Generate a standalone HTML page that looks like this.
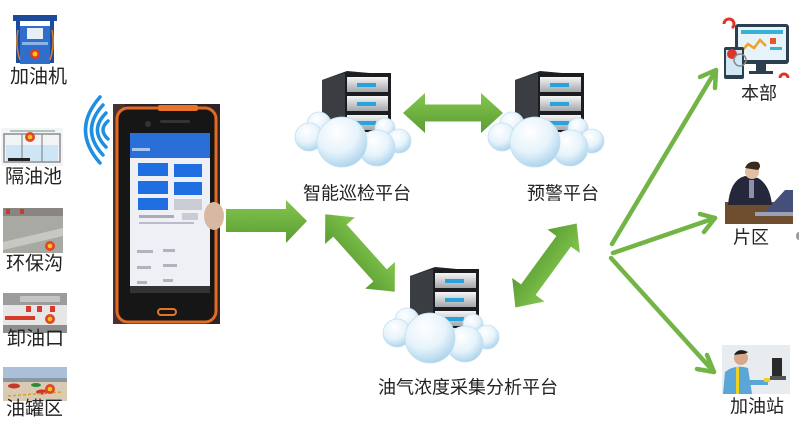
<!DOCTYPE html>
<html><head><meta charset="utf-8">
<style>
html,body{margin:0;padding:0;background:#fff;}
svg{display:block;}
text{font-family:"Liberation Sans","Noto Sans CJK SC",sans-serif;fill:#222;dominant-baseline:central;}
</style></head>
<body>
<svg width="800" height="438" viewBox="0 0 800 438" xmlns="http://www.w3.org/2000/svg">
<defs>
  <radialGradient id="cl" cx="0.4" cy="0.3" r="0.75">
    <stop offset="0" stop-color="#ffffff"/>
    <stop offset="0.55" stop-color="#e6f3fb"/>
    <stop offset="1" stop-color="#a6d0ea"/>
  </radialGradient>
  <linearGradient id="dr" x1="0" y1="0" x2="0" y2="1">
    <stop offset="0" stop-color="#f6f6f6"/>
    <stop offset="1" stop-color="#a4a6aa"/>
  </linearGradient>
  <linearGradient id="gr" x1="0" y1="0" x2="0" y2="1">
    <stop offset="0" stop-color="#82c64e"/>
    <stop offset="1" stop-color="#5b9d33"/>
  </linearGradient>
  <g id="srv">
    <polygon points="27,12 52,3 96,7 96,72 27,72" fill="#202327"/>
    <polygon points="27,12 50,5 50,72 27,72" fill="#3a3d42"/>
    <rect x="50" y="5" width="46" height="67" fill="#1b1d21"/>
    <rect x="52" y="9" width="41" height="15" fill="url(#dr)"/>
    <rect x="62" y="15" width="19" height="4" fill="#2aa3dc"/>
    <rect x="52" y="28" width="41" height="15" fill="url(#dr)"/>
    <rect x="62" y="34" width="19" height="4" fill="#2aa3dc"/>
    <rect x="52" y="47" width="41" height="15" fill="url(#dr)"/>
    <rect x="62" y="53" width="19" height="4" fill="#2aa3dc"/>
    <rect x="52" y="64" width="41" height="8" fill="url(#dr)"/>
    <g fill="url(#cl)" stroke="#c2e0f1" stroke-width="0.8">
      <circle cx="24" cy="56" r="12"/>
      <circle cx="14" cy="69" r="14"/>
      <circle cx="90" cy="60" r="10"/>
      <circle cx="104" cy="73" r="12"/>
      <circle cx="82" cy="80" r="18"/>
      <circle cx="47" cy="74" r="25"/>
    </g>
  </g>
</defs>

<!-- Left images -->
<g>
  <rect x="13" y="15" width="44" height="6" fill="#1c4b9c"/>
  <rect x="16" y="21" width="4" height="42" fill="#1c4b9c"/>
  <rect x="50" y="21" width="4" height="42" fill="#1c4b9c"/>
  <rect x="20" y="26" width="30" height="38" fill="#2f6fcb"/>
  <rect x="27" y="28" width="16" height="11" fill="#e8eef4"/>
  <rect x="22" y="42" width="26" height="3" fill="#8ab4e6"/>
  <circle cx="35" cy="54" r="5" fill="#e23a22"/>
  <circle cx="35" cy="54" r="2.5" fill="#f5c518"/>
  <path d="M18 30 Q15 45 20 60" stroke="#e08020" stroke-width="1.5" fill="none"/>
  <path d="M52 30 Q55 45 50 60" stroke="#e08020" stroke-width="1.5" fill="none"/>
</g>
<g>
  <rect x="1" y="128" width="62" height="38" fill="#f2f4f6"/>
  <rect x="4" y="134" width="56" height="28" fill="none" stroke="#8a8c90" stroke-width="1.5"/>
  <rect x="6" y="145" width="52" height="16" fill="#cde5f4"/>
  <line x1="22" y1="134" x2="22" y2="162" stroke="#8a8c90" stroke-width="1.2"/>
  <line x1="42" y1="134" x2="42" y2="162" stroke="#8a8c90" stroke-width="1.2"/>
  <rect x="8" y="158" width="22" height="3" fill="#222"/>
  <circle cx="30" cy="137" r="5" fill="#e2452a"/>
  <circle cx="30" cy="137" r="2.3" fill="#f5c518"/>
  <line x1="10" y1="131" x2="55" y2="131" stroke="#6a9a7a" stroke-width="1"/>
</g>
<g>
  <rect x="3" y="208" width="60" height="45" fill="#a9a9a4"/>
  <rect x="3" y="208" width="60" height="8" fill="#8a8580"/>
  <polygon points="3,242 63,228 63,236 3,250" fill="#c8c8c2"/>
  <rect x="6" y="209" width="4" height="5" fill="#c83a2a"/>
  <rect x="20" y="209" width="4" height="5" fill="#c83a2a"/>
  <circle cx="50" cy="246" r="5" fill="#e2452a"/>
  <circle cx="50" cy="246" r="2.3" fill="#f5c518"/>
</g>
<g>
  <rect x="3" y="293" width="64" height="40" fill="#e6e6e6"/>
  <rect x="3" y="293" width="64" height="12" fill="#9c9c9c"/>
  <rect x="20" y="296" width="40" height="6" fill="#c4c4c4"/>
  <rect x="5" y="316" width="30" height="4" fill="#d83a2a"/>
  <rect x="26" y="306" width="5" height="6" fill="#d83a2a"/>
  <rect x="37" y="306" width="5" height="6" fill="#d83a2a"/>
  <rect x="50" y="306" width="5" height="6" fill="#d83a2a"/>
  <circle cx="50" cy="319" r="5" fill="#e2452a"/>
  <circle cx="50" cy="319" r="2.3" fill="#f5c518"/>
  <rect x="3" y="325" width="64" height="8" fill="#8e8e8e"/>
</g>
<g>
  <rect x="3" y="367" width="64" height="34" fill="#d9cbb3"/>
  <rect x="3" y="367" width="64" height="14" fill="#a9c0d8"/>
  <rect x="3" y="378" width="64" height="4" fill="#8a96a0"/>
  <ellipse cx="14" cy="386" rx="6" ry="2.5" fill="#c8382a"/>
  <ellipse cx="36" cy="385" rx="5" ry="2" fill="#2a8a3a"/>
  <ellipse cx="42" cy="392" rx="6" ry="2.5" fill="#c8382a"/>
  <line x1="8" y1="396" x2="62" y2="392" stroke="#d8a020" stroke-width="1.5" stroke-dasharray="3 2"/>
  <circle cx="50" cy="389" r="5" fill="#e2452a"/>
  <circle cx="50" cy="389" r="2.3" fill="#f5c518"/>
</g>

<text x="10" y="77" font-size="19">加油机</text>
<text x="5" y="177" font-size="19">隔油池</text>
<text x="6" y="264" font-size="19">环保沟</text>
<text x="7" y="339" font-size="19">卸油口</text>
<text x="6" y="409" font-size="19">油罐区</text>

<!-- wifi arcs -->
<g fill="none" stroke="#1e8fe2" stroke-width="3.5" stroke-linecap="round">
  <path d="M108 121 Q98 130 108 139"/>
  <path d="M106 113 Q89 130 106 147"/>
  <path d="M103 105 Q80 130 103 155"/>
  <path d="M100 97 Q71 130 100 163"/>
</g>

<!-- phone photo -->
<g>
  <rect x="113" y="104" width="107" height="220" fill="#2e2426"/>
  <rect x="113" y="104" width="12" height="220" fill="#4a3030"/>
  <rect x="117" y="108" width="99" height="214" rx="11" fill="#161616" stroke="#e36a22" stroke-width="3"/>
  <rect x="158" y="105" width="40" height="6" rx="2" fill="#e8742a"/>
  <circle cx="148" cy="124" r="3" fill="#333"/>
  <rect x="160" y="120" width="30" height="3" rx="1.5" fill="#333"/>
  <rect x="130" y="133" width="80" height="160" fill="#eef0f5"/>
  <rect x="130" y="133" width="80" height="25" fill="#2a6fd8"/>
  <rect x="132" y="148" width="18" height="3" fill="#a8c6f0"/>
  <rect x="138" y="163" width="30" height="13" fill="#1f6fe2"/>
  <rect x="174" y="164" width="28" height="13" fill="#1f6fe2"/>
  <rect x="138" y="181" width="30" height="13" fill="#1f6fe2"/>
  <rect x="174" y="182" width="28" height="13" fill="#1f6fe2"/>
  <rect x="138" y="198" width="30" height="12" fill="#1f6fe2"/>
  <rect x="174" y="199" width="28" height="11" fill="#c9ccd4"/>
  <rect x="139" y="215" width="35" height="3" fill="#aab"/>
  <rect x="182" y="213" width="16" height="7" fill="#c9ccd4"/>
  <rect x="139" y="222" width="55" height="2" fill="#bbc"/>
  <rect x="137" y="250" width="16" height="3" fill="#b0b4bc"/>
  <rect x="163" y="249" width="12" height="3" fill="#b0b4bc"/>
  <rect x="137" y="266" width="14" height="3" fill="#b0b4bc"/>
  <rect x="163" y="264" width="14" height="3" fill="#b0b4bc"/>
  <rect x="137" y="281" width="10" height="3" fill="#b0b4bc"/>
  <rect x="163" y="279" width="10" height="3" fill="#b0b4bc"/>
  <rect x="130" y="286" width="80" height="7" fill="#333"/>
  <rect x="158" y="309" width="18" height="6" rx="3" fill="none" stroke="#e8742a" stroke-width="2"/>
  <ellipse cx="214" cy="216" rx="10" ry="14" fill="#d9b8a2"/>
</g>

<polygon points="226,209 286,209 286,200 307,221 286,243 286,232 226,232" fill="url(#gr)"/>

<use href="#srv" x="295" y="68"/>
<use href="#srv" x="488" y="68"/>
<use href="#srv" x="383" y="264"/>

<g fill="url(#gr)">
  <polygon transform="translate(453,113)" points="-50,0 -28,-20 -28,-8.5 28,-8.5 28,-20 50,0 28,20 28,8.5 -28,8.5 -28,20"/>
  <polygon transform="translate(360,253) rotate(48.1)" points="-52,0 -30,-20 -30,-9 30,-9 30,-20 52,0 30,20 30,9 -30,9 -30,20"/>
  <polygon transform="translate(546,265.5) rotate(126.1)" points="-52,0 -30,-20 -30,-9 30,-9 30,-20 52,0 30,20 30,9 -30,9 -30,20"/>
</g>

<text x="303" y="193.5" font-size="18">智能巡检平台</text>
<text x="527" y="193.5" font-size="18">预警平台</text>
<text x="378" y="387.5" font-size="18">油气浓度采集分析平台</text>

<g fill="none" stroke="#72b446" stroke-width="4.5" stroke-linecap="round" stroke-linejoin="round">
  <line x1="612" y1="244" x2="716" y2="70"/>
  <polyline points="700,77 716,70 715,88"/>
  <line x1="613" y1="253" x2="715" y2="218"/>
  <polyline points="700,214 715,218 704,232"/>
  <line x1="611" y1="258" x2="714" y2="372"/>
  <polyline points="707,355 714,372 697,369"/>
</g>

<g>
  <rect x="722" y="22" width="68" height="60" fill="#fff"/>
  <path d="M724 24 a5 5 0 1 1 8 4" stroke="#e0342a" stroke-width="3" fill="none"/>
  <rect x="735" y="24" width="54" height="40" rx="3" fill="#2b3f4e"/>
  <rect x="738" y="27" width="48" height="33" fill="#e6f3f9"/>
  <rect x="741" y="30" width="42" height="4" fill="#3ab1d4"/>
  <polyline points="741,52 748,44 754,48 760,40 766,46" fill="none" stroke="#f2a020" stroke-width="2.5"/>
  <rect x="770" y="38" width="6" height="6" fill="#e8542a"/>
  <rect x="770" y="47" width="12" height="3" fill="#3ab1d4"/>
  <rect x="756" y="64" width="10" height="8" fill="#2b3f4e"/>
  <rect x="749" y="71" width="24" height="3" fill="#2b3f4e"/>
  <rect x="724" y="47" width="20" height="32" rx="2" fill="#2b3f4e"/>
  <rect x="726" y="50" width="16" height="25" fill="#cfe8f4"/>
  <circle cx="732" cy="54" r="5" fill="#e0342a"/>
  <circle cx="740" cy="60" r="6" fill="none" stroke="#888" stroke-width="1.5"/>
  <path d="M780 78 a4 4 0 1 1 8 0" stroke="#e0342a" stroke-width="3" fill="none"/>
</g>
<g>
  <rect x="725" y="202" width="68" height="22" fill="#6e4e2e"/>
  <path d="M728 205 Q730 180 745 176 L758 178 Q770 185 772 205 Z" fill="#25283a"/>
  <circle cx="752" cy="172" r="7" fill="#e3bfa2"/>
  <path d="M745 168 Q748 160 758 162 Q762 166 758 170 Z" fill="#3a2a1e"/>
  <rect x="749" y="180" width="5" height="18" fill="#8a90b0"/>
  <polygon points="765,212 785,190 793,190 793,212" fill="#45507a"/>
  <polygon points="755,212 793,212 793,216 755,216" fill="#9aa0b8"/>
</g>
<g>
  <rect x="722" y="345" width="68" height="49" fill="#e9ecee"/>
  <rect x="772" y="358" width="10" height="18" fill="#2a2a2a"/>
  <rect x="770" y="376" width="16" height="4" fill="#555"/>
  <path d="M723 394 L725 372 Q735 364 748 368 L752 394 Z" fill="#5aa6d6"/>
  <rect x="736" y="367" width="3" height="27" fill="#f0d020"/>
  <circle cx="741" cy="358" r="7" fill="#d8a88a"/>
  <path d="M734 355 Q738 347 748 352 Q746 354 741 354 Z" fill="#1e1e1e"/>
  <rect x="748" y="380" width="20" height="5" fill="#5aa6d6"/>
  <rect x="764" y="378" width="6" height="4" fill="#f0d020"/>
</g>
<path d="M799 232 a3 4 0 0 0 0 8" fill="#999"/>

<text x="741" y="93.5" font-size="18">本部</text>
<text x="733" y="237.5" font-size="18">片区</text>
<text x="730" y="406.5" font-size="18">加油站</text>
</svg>
</body></html>
